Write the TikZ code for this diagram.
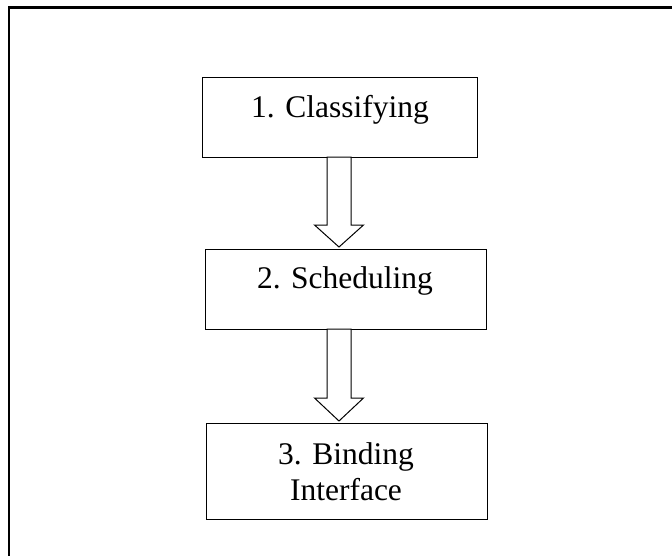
\documentclass[tikz,border=0pt]{standalone}
\usepackage{fontspec}
\setmainfont{Liberation Serif}
\usetikzlibrary{calc}
\begin{document}
\begin{tikzpicture}[x=1pt,y=-1pt,
  frame/.style={line width=2.3pt,line cap=rect},
  stepbox/.style={draw,line width=1pt,inner sep=0pt,outer sep=0pt},
  lbl/.style={inner sep=0pt,anchor=base,font=\fontsize{31.5}{36}\selectfont},
  blockarrow/.style={draw,fill=white,line width=1pt,line join=miter}]
\useasboundingbox (0,0) rectangle (672,555);
\fill[white] (0,0) rectangle (672,555);
% outer frame (only top and left edges fall inside the picture)
\draw[frame] (9,700) -- (9,7.5) -- (750,7.5);
% boxes
\node[stepbox,minimum width=275pt,minimum height=80pt] (b1) at (339.5,117) {};
\node[stepbox,minimum width=281pt,minimum height=80pt] (b2) at (345.5,289) {};
\node[stepbox,minimum width=281pt,minimum height=96pt] (b3) at (346.5,471) {};
% texts
\node[lbl] (t1) at (340,117.7) {1. Classifying};
\node[lbl] (t2) at (345,288) {2. Scheduling};
\node[lbl] (t3a) at (346,464) {3. Binding};
\node[lbl] (t3b) at (346,500) {Interface};
% block arrows
\coordinate (ax) at (339,0);
\draw[blockarrow] let \p0=(ax), \p1=(b1.south), \p2=(b2.north) in
  (\x0-12pt,\y1) -- (\x0-12pt,\y2+24pt) -- (\x0-24.5pt,\y2+24pt) --
  (\x0,\y2+2pt) -- (\x0+24.5pt,\y2+24pt) -- (\x0+12pt,\y2+24pt) --
  (\x0+12pt,\y1) -- cycle;
\draw[blockarrow] let \p0=(ax), \p1=(b2.south), \p2=(b3.north) in
  (\x0-12pt,\y1) -- (\x0-12pt,\y2+25pt) -- (\x0-24.5pt,\y2+25pt) --
  (\x0,\y2+2pt) -- (\x0+24.5pt,\y2+25pt) -- (\x0+12pt,\y2+25pt) --
  (\x0+12pt,\y1) -- cycle;
\end{tikzpicture}
\end{document}
